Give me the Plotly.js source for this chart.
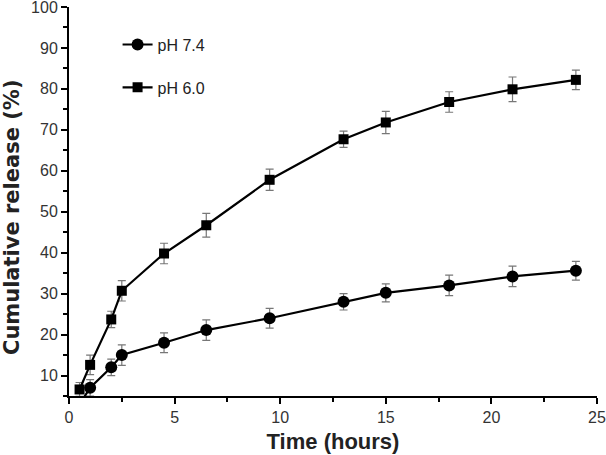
<!DOCTYPE html>
<html>
<head>
<meta charset="utf-8">
<script src="https://cdn.plot.ly/plotly-3.0.1.min.js"></script>
<style>html,body{margin:0;padding:0;background:#fff}#chart{width:606px;height:455px}</style>
</head>
<body>
<div id="chart"></div>
<script>
const timeHours = [0.5, 1, 2, 2.5, 4.5, 6.5, 9.5, 13, 15, 18, 21, 24];
const ph74Release = [3.0, 7.0, 12.0, 15.0, 18.0, 21.1, 24.0, 28.0, 30.2, 32.0, 34.2, 35.6];
const ph74Error = [0.8, 2.0, 2.0, 2.5, 2.4, 2.5, 2.4, 2.0, 2.2, 2.5, 2.5, 2.3];
const ph60Release = [6.6, 12.6, 23.7, 30.7, 39.8, 46.7, 57.8, 67.7, 71.8, 76.8, 79.9, 82.2];
const ph60Error = [1.7, 2.4, 2.0, 2.5, 2.5, 2.9, 2.6, 2.0, 2.7, 2.5, 3.0, 2.4];
const seriesNames = ["pH 7.4", "pH 6.0"];
const yTickValues = [10, 20, 30, 40, 50, 60, 70, 80, 90, 100];
const xTitle = 'Time (hours)';
const yTitle = 'Cumulative release (%)';

const errStyle = {type: 'data', visible: true, color: '#777', thickness: 1.2, width: 4};
const traces = [
  {x: timeHours, y: ph74Release, name: seriesNames[0], type: 'scatter', mode: 'lines+markers',
   legendgroup: 'a', cliponaxis: true,
   line: {color: '#000', width: 2.2}, marker: {symbol: 'circle', size: 12, color: '#000'},
   error_y: Object.assign({array: ph74Error}, errStyle)},
  {x: timeHours, y: ph60Release, name: seriesNames[1], type: 'scatter', mode: 'lines+markers',
   legendgroup: 'b', cliponaxis: true,
   line: {color: '#000', width: 2.2}, marker: {symbol: 'square', size: 10, color: '#000'},
   error_y: Object.assign({array: ph60Error}, errStyle)}
];

const layout = {
  width: 606, height: 455,
  margin: {l: 69, r: 9, t: 7, b: 59},
  paper_bgcolor: '#fff', plot_bgcolor: '#fff',
  font: {family: 'Liberation Sans, Arial, sans-serif', color: '#222', size: 16},
  showlegend: true,
  legend: {x: 0.092, y: 0.947, xanchor: 'left', yanchor: 'top', tracegroupgap: 19,
           font: {size: 16, color: '#222'}, bgcolor: 'rgba(0,0,0,0)'},
  xaxis: {
    range: [0, 25], tick0: 0, dtick: 5, ticks: 'outside', ticklen: 6, tickwidth: 2, tickcolor: '#000',
    showline: true, linecolor: '#000', linewidth: 2, showgrid: false, zeroline: false,
    minor: {dtick: 2.5, ticks: 'outside', ticklen: 4, tickwidth: 2, tickcolor: '#000'},
    title: {text: xTitle, font: {size: 22, color: '#222', weight: 'bold'}, standoff: 8},
    tickfont: {size: 16, color: '#333'}
  },
  yaxis: {
    range: [5, 100], tickmode: 'array', tickvals: yTickValues, ticklabeloverflow: 'allow',
    ticks: 'outside', ticklen: 6, tickwidth: 2, tickcolor: '#000',
    showline: true, linecolor: '#000', linewidth: 2, showgrid: false, zeroline: false,
    minor: {dtick: 5, tick0: 5, ticks: 'outside', ticklen: 4, tickwidth: 2, tickcolor: '#000'},
    tickfont: {size: 16, color: '#333'}, automargin: false
  },
  annotations: [{
    text: yTitle, textangle: -90, xref: 'paper', yref: 'paper',
    x: -0.108, y: 0.46, xanchor: 'center', yanchor: 'middle', showarrow: false,
    font: {family: 'DejaVu Sans, sans-serif', size: 21, color: '#222', weight: 'bold'}
  }]
};

Plotly.newPlot('chart', traces, layout, {displayModeBar: false, staticPlot: true});
</script>
</body>
</html>
